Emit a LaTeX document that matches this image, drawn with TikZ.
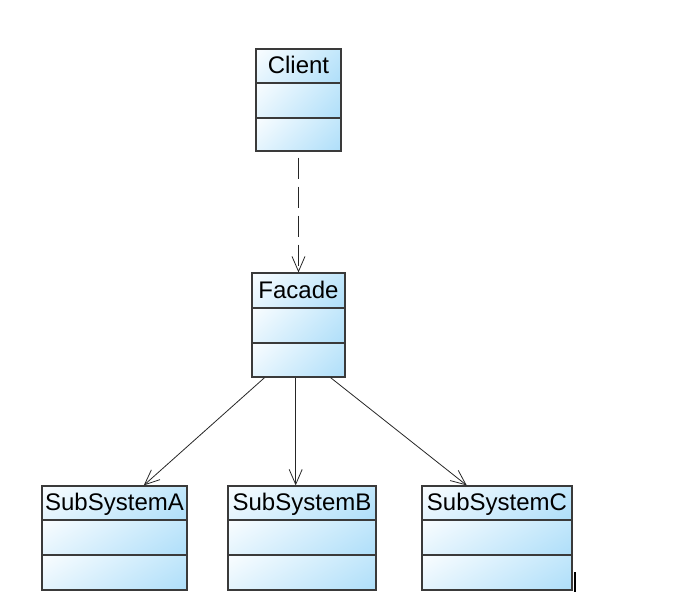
\documentclass[tikz,border=0pt]{standalone}
\usepackage{fontspec}
\setmainfont{Liberation Sans}
\usetikzlibrary{arrows.meta,calc,fit,shadings}

\definecolor{umlpale}{HTML}{FAFDFF}
\definecolor{umlleft}{HTML}{E4F4FD}
\definecolor{umlright}{HTML}{C2E7FB}
\definecolor{umlblue}{HTML}{AEDEF9}
\definecolor{umledge}{HTML}{3A3A3A}

\tikzset{
  compartment/.style={upper left=umlpale, upper right=umlright,
                      lower left=umlleft, lower right=umlblue},
  classframe/.style={draw=umledge, line width=1.2pt, inner sep=0pt},
  divider/.style={draw=umledge, line width=1.2pt},
  classname/.style={anchor=base, inner sep=0pt,
                    font=\fontsize{24}{28}\selectfont},
  assoc/.style={draw=black!85, line width=0.8pt,
                -{Straight Barb[length=15pt,width=13pt,line width=0.8pt]}},
  depend/.style={assoc, dash pattern=on 21pt off 8pt, dash phase=-6pt},
}

% name, left, right, top, divider 1, divider 2, bottom, label
\newcommand\umlclass[8]{%
  \shade[compartment] (#2,#4) rectangle (#3,#5);
  \shade[compartment] (#2,#5) rectangle (#3,#6);
  \shade[compartment] (#2,#6) rectangle (#3,#7);
  \coordinate (#1-nw) at (#2,#4);
  \coordinate (#1-se) at (#3,#7);
  \node[classframe, fit=(#1-nw)(#1-se)] (#1) {};
  \draw[divider] (#2,#5) -- (#3,#5);
  \draw[divider] (#2,#6) -- (#3,#6);
  \node[classname] (#1-label) at ({(#2+#3)/2},{#5-10}) {#8};
}

\begin{document}
\begin{tikzpicture}[x=1pt, y=-1pt]
  \useasboundingbox (0,0) rectangle (684,614);

  \umlclass{client}{256}{341}{49}{83}{118}{151}{Client}
  \umlclass{facade}{252}{345}{273}{308}{343}{377}{Facade}
  \umlclass{subA}{42}{187}{486}{520}{555}{590}{SubSystemA}
  \umlclass{subB}{228}{376}{486}{520}{555}{590}{SubSystemB}
  \umlclass{subC}{422}{572}{486}{520}{555}{590}{SubSystemC}

  % dependency from the client to the facade
  \draw[depend] (client.south) -- (facade.north);

  % facade delegates to the subsystems
  \coordinate (fleft)  at ($(facade.south west)!0.14!(facade.south east)$);
  \coordinate (fmid)   at ($(facade.south west)!0.47!(facade.south east)$);
  \coordinate (fright) at ($(facade.south west)!0.84!(facade.south east)$);
  \draw[assoc] (fleft) -- ($(subA.north west)!0.70!(subA.north east)$);
  \draw[assoc] (fmid) -- (fmid |- subB.north);
  \draw[assoc] (fright) -- ($(subC.north west)!0.30!(subC.north east)$);

  % small text cursor beside the last class
  \coordinate (cursortop) at (575,572);
  \coordinate (cursorbot) at (575,592);
  \draw[line width=2pt, black] (cursortop) -- (cursorbot);
\end{tikzpicture}
\end{document}
